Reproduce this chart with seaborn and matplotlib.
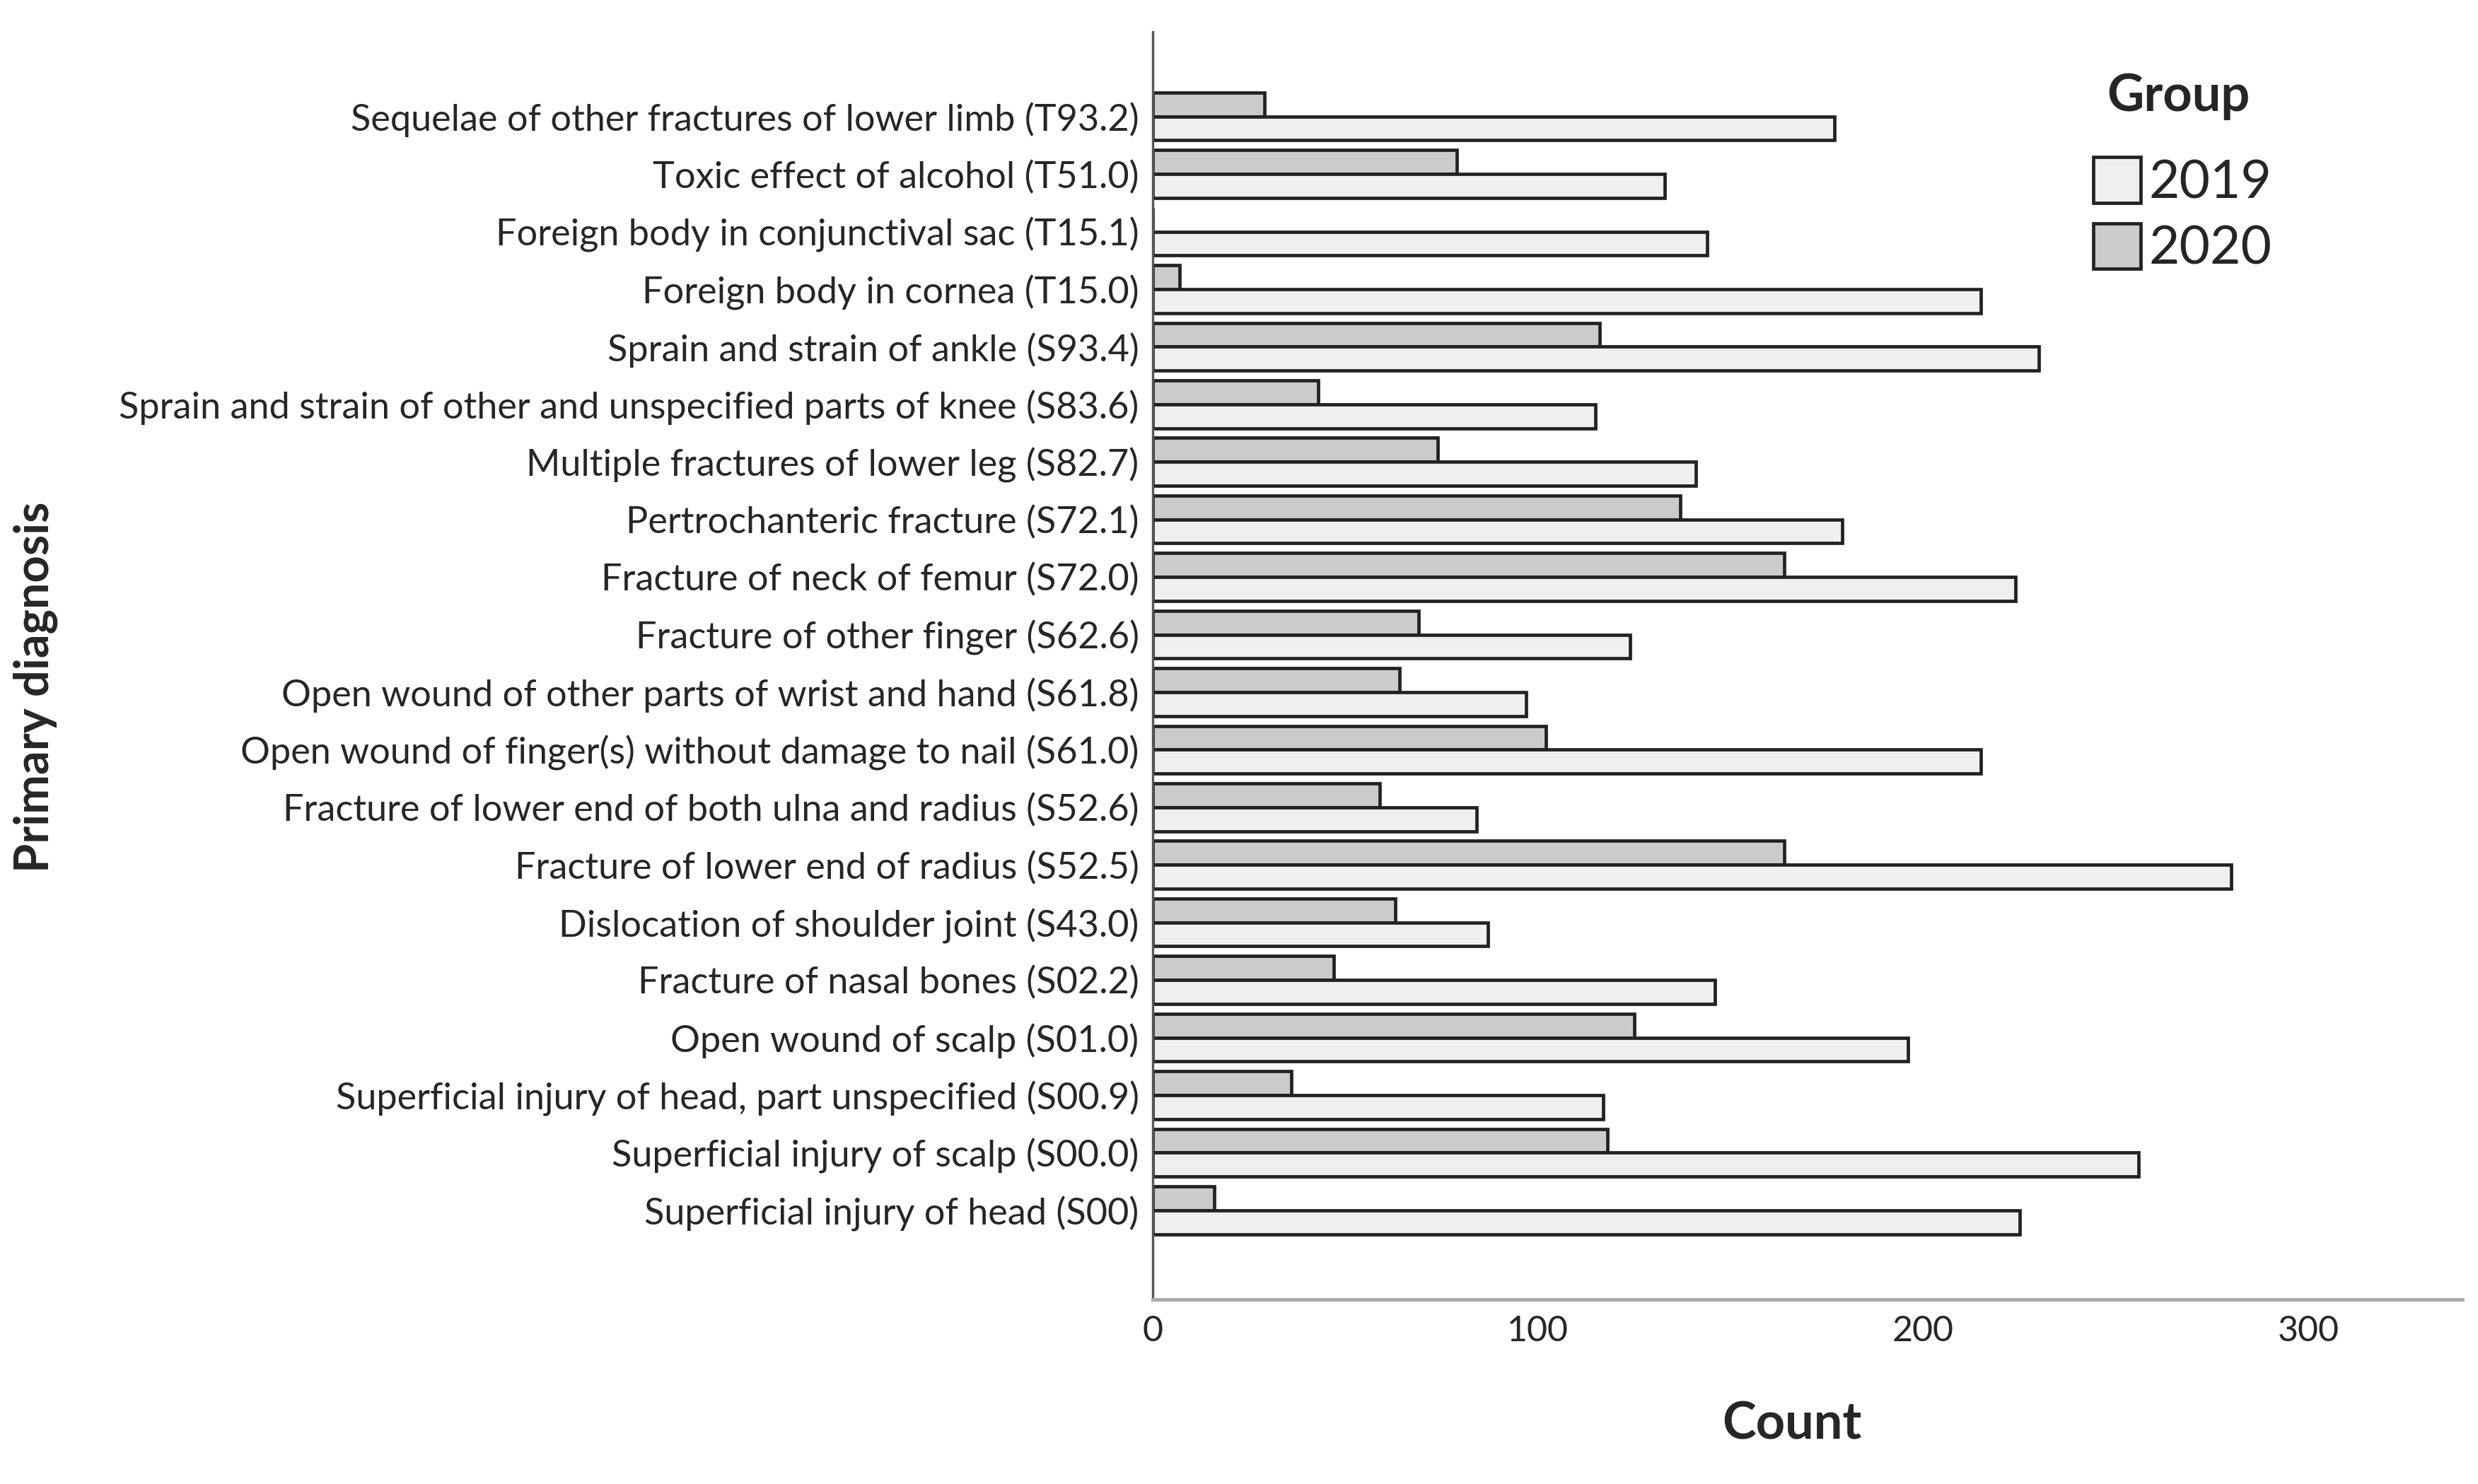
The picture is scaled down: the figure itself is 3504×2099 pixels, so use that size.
import matplotlib
matplotlib.use("Agg")
import matplotlib.pyplot as plt
import seaborn as sns
import pandas as pd
from matplotlib.patches import Patch

categories = [
    "Sequelae of other fractures of lower limb (T93.2)",
    "Toxic effect of alcohol (T51.0)",
    "Foreign body in conjunctival sac (T15.1)",
    "Foreign body in cornea (T15.0)",
    "Sprain and strain of ankle (S93.4)",
    "Sprain and strain of other and unspecified parts of knee (S83.6)",
    "Multiple fractures of lower leg (S82.7)",
    "Pertrochanteric fracture (S72.1)",
    "Fracture of neck of femur (S72.0)",
    "Fracture of other finger (S62.6)",
    "Open wound of other parts of wrist and hand (S61.8)",
    "Open wound of finger(s) without damage to nail (S61.0)",
    "Fracture of lower end of both ulna and radius (S52.6)",
    "Fracture of lower end of radius (S52.5)",
    "Dislocation of shoulder joint (S43.0)",
    "Fracture of nasal bones (S02.2)",
    "Open wound of scalp (S01.0)",
    "Superficial injury of head, part unspecified (S00.9)",
    "Superficial injury of scalp (S00.0)",
    "Superficial injury of head (S00)",
]
counts_2019 = [177, 133, 144, 215, 230, 115, 141, 179, 224, 124, 97, 215, 84, 280, 87, 146, 196, 117, 256, 225]
counts_2020 = [29, 79, 0, 7, 116, 43, 74, 137, 164, 69, 64, 102, 59, 164, 63, 47, 125, 36, 118, 16]
groups = ["2019", "2020"]
xticks = [0, 100, 200, 300]

df = pd.concat([
    pd.DataFrame({"Diagnosis": categories, "Count": counts_2019, "Group": "2019"}),
    pd.DataFrame({"Diagnosis": categories, "Count": counts_2020, "Group": "2020"}),
])

sns.set_theme(style="white")
FONT = ["Lato", "DejaVu Sans"]
plt.rcParams["font.family"] = FONT

W, H = 3505, 2099
fig = plt.figure(figsize=(W / 200, H / 200), dpi=200)
ax = fig.add_axes([1630 / W, 1 - 1838 / H, (3482 - 1630) / W, (1838 - 45) / H])

colors = {"2019": "#efefef", "2020": "#cbcbcb"}
sns.barplot(data=df, x="Count", y="Diagnosis", hue="Group", hue_order=["2020", "2019"],
            order=categories, palette=colors, edgecolor="#222222", linewidth=1.7,
            width=0.83, ax=ax, saturation=1)

ax.set_xlim(0, 340)
ax.set_ylim(20.55, -1.47)
ax.set_xticks(xticks)
ax.tick_params(axis="both", length=0)
ax.tick_params(axis="y", pad=7, labelsize=18.8)
ax.tick_params(axis="x", pad=8, labelsize=18)
for s in ["top", "right"]:
    ax.spines[s].set_visible(False)
ax.spines["left"].set_color("#555555")
ax.spines["left"].set_linewidth(1.2)
ax.spines["bottom"].set_color("#aaaaaa")
ax.spines["bottom"].set_linewidth(1.8)

ax.set_ylabel("Primary diagnosis", fontsize=24, fontweight="bold")
ax.yaxis.set_label_coords(-0.836, 0.483)
ax.set_xlabel("Count", fontsize=26, fontweight="bold")
ax.xaxis.set_label_coords(0.488, -0.08)

if ax.legend_ is not None:
    ax.legend_.remove()

fig.text(3080 / W, 1 - 136 / H, "Group", fontsize=26, fontweight="bold",
         ha="center", va="center")
handles = [Patch(facecolor=colors[g], edgecolor="#222222", linewidth=1.7, label=g) for g in groups]
leg = fig.legend(handles=handles, loc="upper left",
                 bbox_to_anchor=(2960 / W, 1 - 222 / H), frameon=False,
                 fontsize=27, handlelength=0.9, handleheight=0.95,
                 handletextpad=0.15, labelspacing=0.3, borderaxespad=0, borderpad=0)

fig.savefig("out.png", dpi=200, facecolor="white")
